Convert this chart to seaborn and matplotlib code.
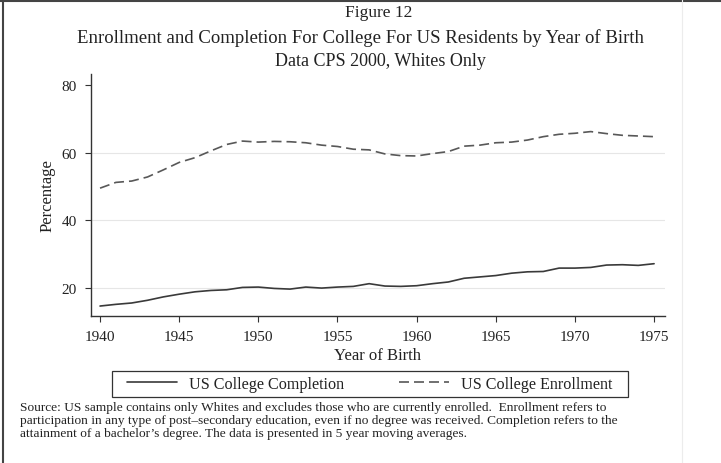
import numpy as np
import pandas as pd
import matplotlib
matplotlib.use("Agg")
import matplotlib.pyplot as plt
import seaborn as sns
from matplotlib.lines import Line2D
from matplotlib.patches import Rectangle

years = list(range(1940, 1976))
completion = [14.7, 15.2, 15.6, 16.4, 17.4, 18.2, 18.9, 19.3, 19.5, 20.2,
              20.3, 19.9, 19.7, 20.3, 20.0, 20.3, 20.5, 21.3, 20.6, 20.5,
              20.7, 21.3, 21.8, 22.9, 23.3, 23.7, 24.4, 24.8, 24.9, 25.9,
              25.9, 26.1, 26.8, 26.9, 26.7, 27.2]
enrollment = [49.5, 51.2, 51.6, 52.8, 54.9, 57.1, 58.5, 60.5, 62.4, 63.4,
              63.1, 63.3, 63.2, 62.9, 62.2, 61.8, 61.0, 60.8, 59.6, 59.1,
              59.0, 59.7, 60.3, 61.9, 62.2, 62.9, 63.1, 63.7, 64.7, 65.4,
              65.7, 66.2, 65.6, 65.1, 64.9, 64.7]
series_names = ["US College Completion", "US College Enrollment"]
x_ticks = [1940, 1945, 1950, 1955, 1960, 1965, 1970, 1975]
y_ticks = [20, 40, 60, 80]

df = pd.DataFrame({
    "Year": years * 2,
    "Value": completion + enrollment,
    "Series": [series_names[0]] * len(years) + [series_names[1]] * len(years),
})

sns.set_theme(style="white")
plt.rcParams["font.family"] = ["Liberation Serif", "DejaVu Serif"]

fig = plt.figure(figsize=(7.21, 4.64), dpi=100)
ax = fig.add_axes([90.7 / 721, 1 - 317 / 464, (665 - 90.7) / 721, (317 - 75) / 464])

solid_c = "#3a3a3a"
dash_c = "#585858"
dash_pat = (6, 3)
sns.lineplot(data=df, x="Year", y="Value", hue="Series", style="Series",
             palette={series_names[0]: solid_c, series_names[1]: dash_c},
             dashes={series_names[0]: "", series_names[1]: dash_pat},
             linewidth=1.2, ax=ax, legend=False)

ax.set_xlim(1939.41, 1975.69)
ax.set_ylim(11.76, 83.2)
ax.set_xticks(x_ticks)
ax.set_yticks(y_ticks)
ax.tick_params(axis="both", which="major", length=4, width=0.8, color="#333333",
               labelsize=11, labelcolor="#222222", direction="out",
               bottom=True, left=True)
ax.tick_params(axis="x", pad=6)
ax.tick_params(axis="y", pad=6)
for s in ["top", "right"]:
    ax.spines[s].set_visible(False)
for s in ["left", "bottom"]:
    ax.spines[s].set_color("#333333")
    ax.spines[s].set_linewidth(1.0)
for v in [20, 40, 60]:
    ax.axhline(v, color="#e6e6e6", linewidth=0.8, zorder=0)
ax.set_xlabel("Year of Birth", fontsize=12, color="#222222", labelpad=3)
ax.set_ylabel("Percentage", fontsize=12, color="#222222", labelpad=4)

# titles
fig.text(0.525, 1 - 13 / 464, "Figure 12", ha="center", va="center", fontsize=12.5, color="#222222")
fig.text(0.5, 1 - 38 / 464,
         "Enrollment and Completion For College For US Residents by Year of Birth",
         ha="center", va="center", fontsize=13.5, color="#222222")
fig.text(0.527, 1 - 62 / 464, "Data CPS 2000, Whites Only", ha="center", va="center",
         fontsize=13, color="#222222")

# legend (frame drawn separately for exact padding)
handles = [Line2D([], [], color=solid_c, linewidth=1.2),
           Line2D([], [], color=dash_c, linewidth=1.2, dashes=dash_pat)]
leg = fig.legend(handles, series_names, loc="center",
                 bbox_to_anchor=(370 / 721, 1 - 385 / 464), ncol=2,
                 frameon=False, fontsize=11.6, handlelength=3.1, columnspacing=3.4,
                 handletextpad=0.75, borderpad=0.35, borderaxespad=0)
for t in leg.get_texts():
    t.set_color("#222222")
fig.add_artist(Rectangle((112 / 721, 1 - 398 / 464), (628 - 112) / 721, 26 / 464,
                         transform=fig.transFigure, fill=False,
                         edgecolor="#333333", linewidth=0.9))

note_lines = [
    "Source: US sample contains only Whites and excludes those who are currently enrolled.  Enrollment refers to",
    "participation in any type of post\u2013secondary education, even if no degree was received. Completion refers to the",
    "attainment of a bachelor\u2019s degree. The data is presented in 5 year moving averages.",
]
for i, line in enumerate(note_lines):
    fig.text(20 / 721, 1 - (408 + 13 * i) / 464, line, ha="left", va="center",
             fontsize=9.6, color="#222222")

# page frame lines
fig.add_artist(Line2D([0, 1], [1 - 1.5 / 464, 1 - 1.5 / 464], transform=fig.transFigure,
                      color="#444444", linewidth=1.5))
fig.add_artist(Line2D([2.5 / 721, 2.5 / 721], [0, 1], transform=fig.transFigure,
                      color="#444444", linewidth=1.5))
fig.add_artist(Line2D([682 / 721, 682 / 721], [0, 1], transform=fig.transFigure,
                      color="#ececec", linewidth=0.8))

fig.savefig("out.png", dpi=100)
